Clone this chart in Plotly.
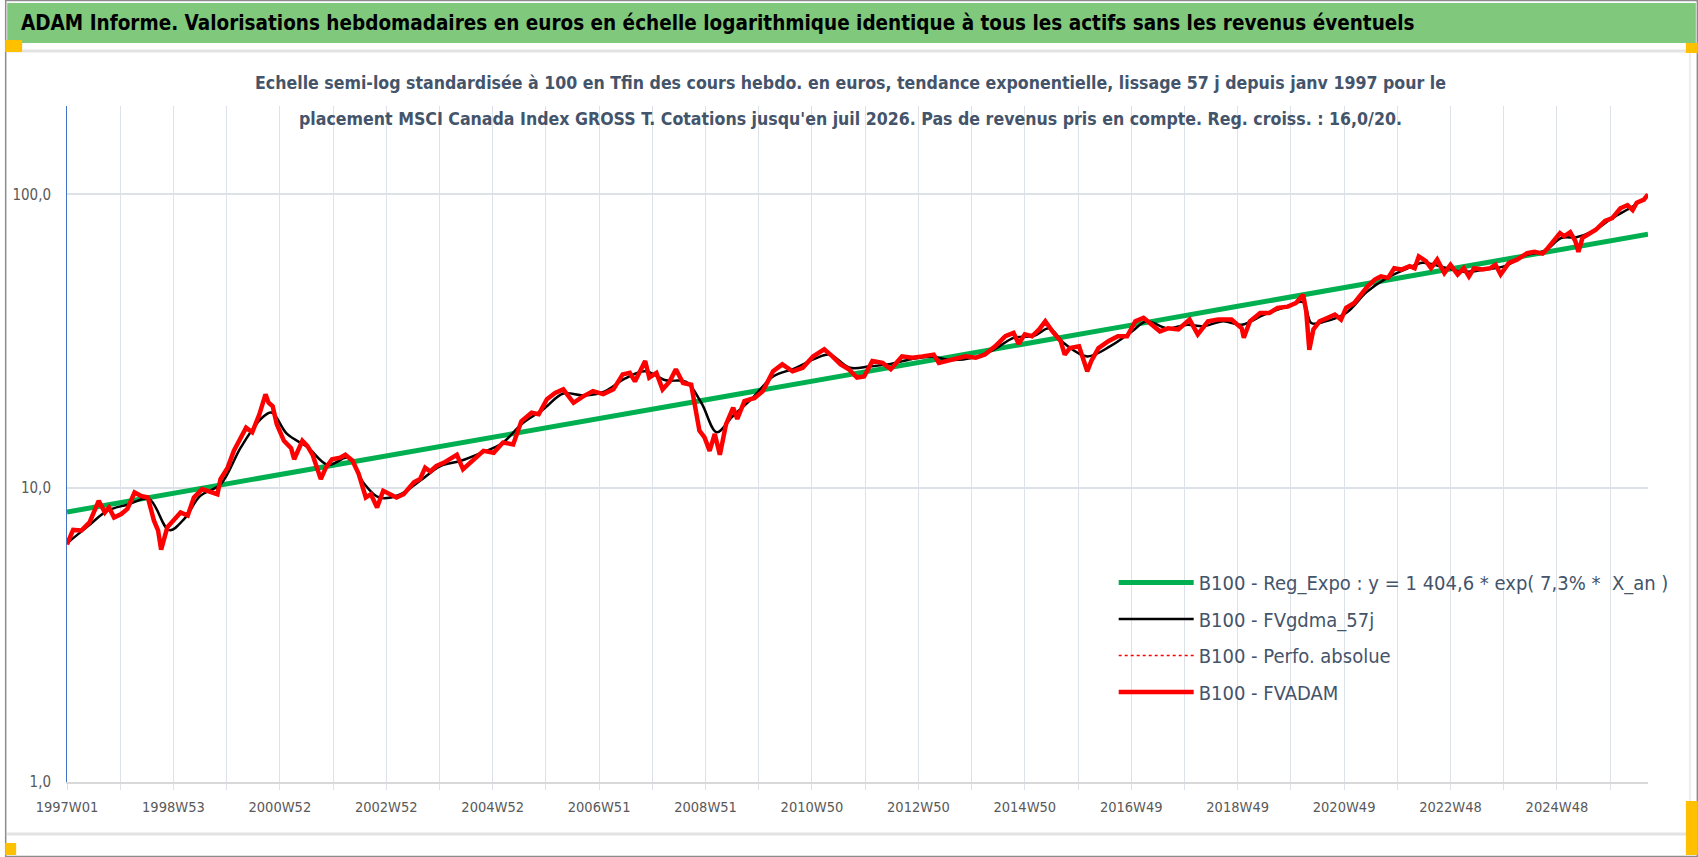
import plotly.graph_objects as go

# Semaines comptées depuis 1997W01 (index 0) et valeurs base 100
semaines_fvadam = [
    0, 6, 14, 22, 31, 37, 41, 46, 53, 59, 66, 72, 79, 85, 89, 92, 98, 111, 118, 124,
    132, 141, 147, 150, 157, 163, 170, 175, 181, 188, 194, 197, 201, 205, 212, 219, 222, 230, 235, 240,
    248, 253, 259, 267, 272, 279, 285, 292, 297, 303, 309, 316, 322, 329, 339, 345, 350, 355, 361, 368,
    374, 381, 387, 397, 407, 417, 426, 436, 444, 454, 461, 469, 477, 485, 495, 504, 514, 524, 534, 543,
    550, 555, 565, 569, 576, 582, 589, 595, 602, 610, 615, 618, 623, 628, 633, 638, 644, 651, 655, 662,
    672, 680, 690, 699, 709, 719, 729, 740, 748, 756, 764, 772, 779, 787, 797, 805, 816, 826, 836, 847,
    852, 860, 868, 878, 888, 897, 907, 917, 925, 930, 936, 943, 950, 956, 963, 971, 975, 980, 989, 997,
    1001, 1008, 1018, 1027, 1036, 1044, 1052, 1060, 1068, 1076, 1086, 1097, 1105, 1115, 1125, 1138, 1148, 1150, 1156, 1166,
    1175, 1183, 1193, 1201, 1208, 1211, 1214, 1218, 1224, 1232, 1239, 1245, 1250, 1258, 1265, 1271, 1278, 1284, 1291, 1297,
    1304, 1312, 1317, 1321, 1328, 1333, 1339, 1346, 1352, 1359, 1365, 1370, 1375, 1383, 1391, 1396, 1401, 1409, 1417, 1427,
    1434, 1442, 1447, 1453, 1459, 1463, 1469, 1474, 1477, 1481, 1486, 1494, 1503, 1510, 1518, 1525, 1530, 1534, 1541, 1545,
]
valeurs_fvadam = [
    6.44, 7.21, 7.18, 7.65, 9.06, 8.27, 8.6, 7.95, 8.17, 8.5, 9.67, 9.42, 9.3, 7.75, 7.18, 6.18, 7.36, 8.27, 8.07, 9.3,
    9.93, 9.67, 9.54, 10.74, 11.75, 13.4, 14.86, 16.07, 15.5, 17.85, 20.87, 19.54, 19.0, 16.5, 14.5, 13.7, 12.55, 14.5, 13.9, 13.0,
    10.74, 11.75, 12.55, 12.7, 13.0, 12.4, 11.2, 9.3, 9.54, 8.6, 9.8, 9.54, 9.3, 9.54, 10.47, 10.74, 11.75, 11.4, 11.9, 12.2,
    12.55, 13.0, 11.6, 12.4, 13.4, 13.2, 14.3, 14.1, 16.9, 18.07, 17.85, 20.1, 21.1, 21.7, 19.54, 20.5, 21.4, 20.9, 21.7, 24.4,
    24.7, 23.1, 27.1, 23.8, 24.7, 21.7, 23.1, 25.4, 22.8, 22.5, 18.3, 15.7, 14.9, 13.4, 15.3, 13.0, 16.5, 18.8, 17.2, 19.8,
    20.3, 21.4, 25.0, 26.4, 25.0, 25.7, 28.1, 29.7, 28.1, 26.4, 25.4, 23.8, 24.0, 27.1, 26.7, 25.4, 28.1, 27.8, 28.1, 28.5,
    26.7, 27.1, 27.5, 28.1, 27.8, 28.5, 30.4, 32.9, 33.8, 31.0, 33.4, 32.9, 34.7, 37.0, 34.2, 31.7, 28.5, 30.0, 30.4, 25.0,
    27.1, 30.0, 31.7, 32.9, 32.9, 37.0, 38.0, 36.0, 34.2, 35.0, 34.7, 37.5, 33.4, 37.0, 37.5, 37.5, 35.0, 32.5, 37.0, 39.5,
    39.5, 41.1, 41.5, 42.7, 45.6, 40.0, 29.6, 34.7, 37.0, 38.0, 39.0, 37.5, 41.1, 42.7, 46.2, 48.7, 51.3, 52.6, 52.0, 56.1,
    55.5, 57.0, 56.1, 61.5, 59.3, 56.1, 60.0, 54.0, 57.6, 53.4, 56.1, 52.6, 56.1, 55.5, 56.1, 57.6, 53.4, 58.5, 60.0, 63.1,
    63.8, 62.9, 65.6, 70.1, 73.8, 72.0, 74.4, 69.4, 63.8, 71.2, 73.2, 75.8, 81.3, 83.0, 89.7, 92.0, 88.5, 93.7, 96.0, 100.0,
]

semaines_gdma = [
    0, 20, 40, 60, 80, 100, 115, 130, 150, 170, 190, 200, 215, 235, 255, 275, 290, 305, 325, 345,
    365, 385, 405, 425, 445, 465, 485, 505, 525, 545, 565, 585, 605, 620, 635, 650, 670, 690, 710, 730,
    745, 765, 785, 805, 825, 845, 865, 885, 905, 925, 945, 960, 975, 997, 1020, 1040, 1055, 1075, 1095, 1110,
    1130, 1148, 1170, 1190, 1208, 1216, 1230, 1250, 1270, 1290, 1310, 1325, 1345, 1365, 1385, 1405, 1425, 1445, 1460, 1475,
    1490, 1510, 1530, 1545,
]
valeurs_gdma = [
    6.5, 7.4, 8.4, 8.8, 9.2, 7.2, 7.9, 9.4, 10.3, 13.8, 17.3, 18.1, 15.3, 13.8, 12.0, 12.7, 10.4, 9.3, 9.5, 10.6,
    11.9, 12.4, 13.2, 14.2, 16.6, 18.5, 21.0, 20.7, 21.3, 23.6, 25.0, 23.3, 23.0, 19.5, 15.5, 17.5, 20.3, 24.0, 25.5, 27.5,
    28.5, 25.7, 26.0, 26.5, 27.5, 28.0, 27.3, 27.8, 29.5, 32.5, 33.0, 35.0, 31.0, 28.1, 30.5, 34.0, 37.0, 35.0, 36.0, 35.6,
    37.0, 36.0, 39.0, 41.3, 43.0, 36.5, 37.0, 39.5, 46.5, 52.0, 56.0, 58.5, 56.5, 54.5, 55.5, 57.0, 62.0, 64.5, 71.0, 71.5,
    74.5, 83.0, 91.0, 99.0,
]

semaines_reg = [0, 104, 208, 312, 416, 520, 624, 728, 832, 936, 1040, 1144, 1248, 1352, 1456, 1545]
valeurs_reg = [8.3, 9.6, 11.1, 12.9, 14.9, 17.2, 19.9, 23.1, 26.7, 31.0, 35.9, 41.6, 48.2, 55.8, 64.5, 73.2]

ticks_semaines = [0, 104, 208, 312, 416, 520, 624, 728, 832, 936, 1040, 1144, 1248, 1352, 1456]
ticks_labels = ["1997W01", "1998W53", "2000W52", "2002W52", "2004W52", "2006W51", "2008W51", "2010W50",
                "2012W50", "2014W50", "2016W49", "2018W49", "2020W49", "2022W48", "2024W48"]

titre = "ADAM Informe. Valorisations hebdomadaires en euros en échelle logarithmique identique à tous les actifs sans les revenus éventuels"
sous_titre_1 = "Echelle semi-log standardisée à 100 en Tfin des cours hebdo. en euros, tendance exponentielle, lissage 57 j depuis janv 1997 pour le"
sous_titre_2 = "placement MSCI Canada Index GROSS T. Cotations jusqu'en juil 2026. Pas de revenus pris en compte. Reg. croiss. : 16,0/20."

# Géométrie de la figure (pixels)
W, H = 1698, 857
ML, MR, MT, MB = 62, 50, 106, 75
PW, PH = W - ML - MR, H - MT - MB


def px(X):
    return (X - ML) / PW


def py(Y):
    return (H - MB - Y) / PH


police = "DejaVu Sans Condensed, Liberation Sans Narrow, sans-serif"
gris_texte = "#595959"
bleu_texte = "#44546A"

fig = go.Figure()

fig.add_trace(go.Scatter(x=semaines_reg, y=valeurs_reg, mode="lines",
                         name="B100 - Reg_Expo : y = 1 404,6 * exp( 7,3% *  X_an )",
                         line=dict(color="#00B050", width=5), legendgroup="a"))
fig.add_trace(go.Scatter(x=semaines_gdma, y=valeurs_gdma, mode="lines",
                         name="B100 - FVgdma_57j",
                         line=dict(color="#000000", width=2.5, shape="spline"), legendgroup="b"))
fig.add_trace(go.Scatter(x=semaines_fvadam, y=valeurs_fvadam, mode="lines",
                         name="B100 - Perfo. absolue",
                         line=dict(color="#FF0000", width=1.5, dash="dot"), legendgroup="c"))
fig.add_trace(go.Scatter(x=semaines_fvadam, y=valeurs_fvadam, mode="lines",
                         name="B100 - FVADAM",
                         line=dict(color="#FF0000", width=4.5), legendgroup="d"))

grille = "#DDE1E8"

fig.update_layout(
    width=W, height=H,
    margin=dict(l=ML, r=MR, t=MT, b=MB),
    paper_bgcolor="white",
    plot_bgcolor="white",
    font=dict(family=police, color=gris_texte),
    showlegend=True,
    legend=dict(
        x=px(1112), y=py(563), xanchor="left", yanchor="top",
        font=dict(size=20, color=bleu_texte, family=police),
        bgcolor="rgba(0,0,0,0)",
        itemwidth=75,
        tracegroupgap=7.5,
    ),
    xaxis=dict(
        range=[0, 1545],
        tickmode="array", tickvals=ticks_semaines, ticktext=ticks_labels,
        tickfont=dict(size=14.5, color=gris_texte),
        showgrid=True, gridcolor=grille, gridwidth=1,
        ticks="outside", ticklen=6, tickcolor=grille,
        minor=dict(tick0=0, dtick=52, showgrid=True, gridcolor=grille, gridwidth=1,
                   ticks="outside", ticklen=6, tickcolor=grille),
        showline=True, linecolor="#D9D9D9", linewidth=2,
        zeroline=False,
        ticklabelstandoff=5,
    ),
    yaxis=dict(
        type="log",
        range=[0, 2.301],
        tickmode="array", tickvals=[1, 10, 100], ticktext=["1,0", "10,0", "100,0"],
        tickfont=dict(size=15, color=gris_texte),
        showgrid=True, gridcolor=grille, gridwidth=2,
        showline=True, linecolor="#4472C4", linewidth=1,
        zeroline=False,
        ticklabelstandoff=12,
    ),
)

# Bandeau de titre, bordures et poignées de sélection
fig.add_shape(type="rect", xref="paper", yref="paper", layer="below",
              x0=px(2), x1=px(1696), y0=py(43), y1=py(3),
              fillcolor="#80C87C", line=dict(width=0))
fig.add_shape(type="line", xref="paper", yref="paper",
              x0=px(2), x1=px(1696), y0=py(51), y1=py(51),
              line=dict(color="#E3E3E3", width=3))
fig.add_shape(type="line", xref="paper", yref="paper",
              x0=px(2), x1=px(1690), y0=py(834), y1=py(834),
              line=dict(color="#E3E3E3", width=3))
fig.add_shape(type="line", xref="paper", yref="paper",
              x0=px(1690), x1=px(1690), y0=py(52), y1=py(834),
              line=dict(color="#EDEDED", width=2))
fig.add_shape(type="rect", xref="paper", yref="paper",
              x0=px(0.5), x1=px(1697.5), y0=py(856.5), y1=py(0.5),
              line=dict(color="#8C8C8C", width=1.5))
for x0, x1, y0, y1 in [(0, 17, 40, 52), (1686, 1698, 43, 53), (0, 11, 843, 855), (1686, 1698, 801, 855)]:
    fig.add_shape(type="rect", xref="paper", yref="paper",
                  x0=px(x0), x1=px(x1), y0=py(y1), y1=py(y0),
                  fillcolor="#FFC000", line=dict(width=0))

fig.add_annotation(text=titre, xref="paper", yref="paper", x=px(14), y=py(23),
                   xanchor="left", yanchor="middle", showarrow=False,
                   font=dict(size=20.5, color="#000000", family=police, weight="bold"))
fig.add_annotation(text=sous_titre_1, xref="paper", yref="paper", x=px(848), y=py(83),
                   xanchor="center", yanchor="middle", showarrow=False,
                   font=dict(size=17.6, color=bleu_texte, family=police, weight="bold"))
fig.add_annotation(text=sous_titre_2, xref="paper", yref="paper", x=px(848), y=py(119),
                   xanchor="center", yanchor="middle", showarrow=False,
                   font=dict(size=17.6, color=bleu_texte, family=police, weight="bold"))

fig.write_html("out.html", config={"displayModeBar": False},
               post_script="document.body.style.margin='0';")
